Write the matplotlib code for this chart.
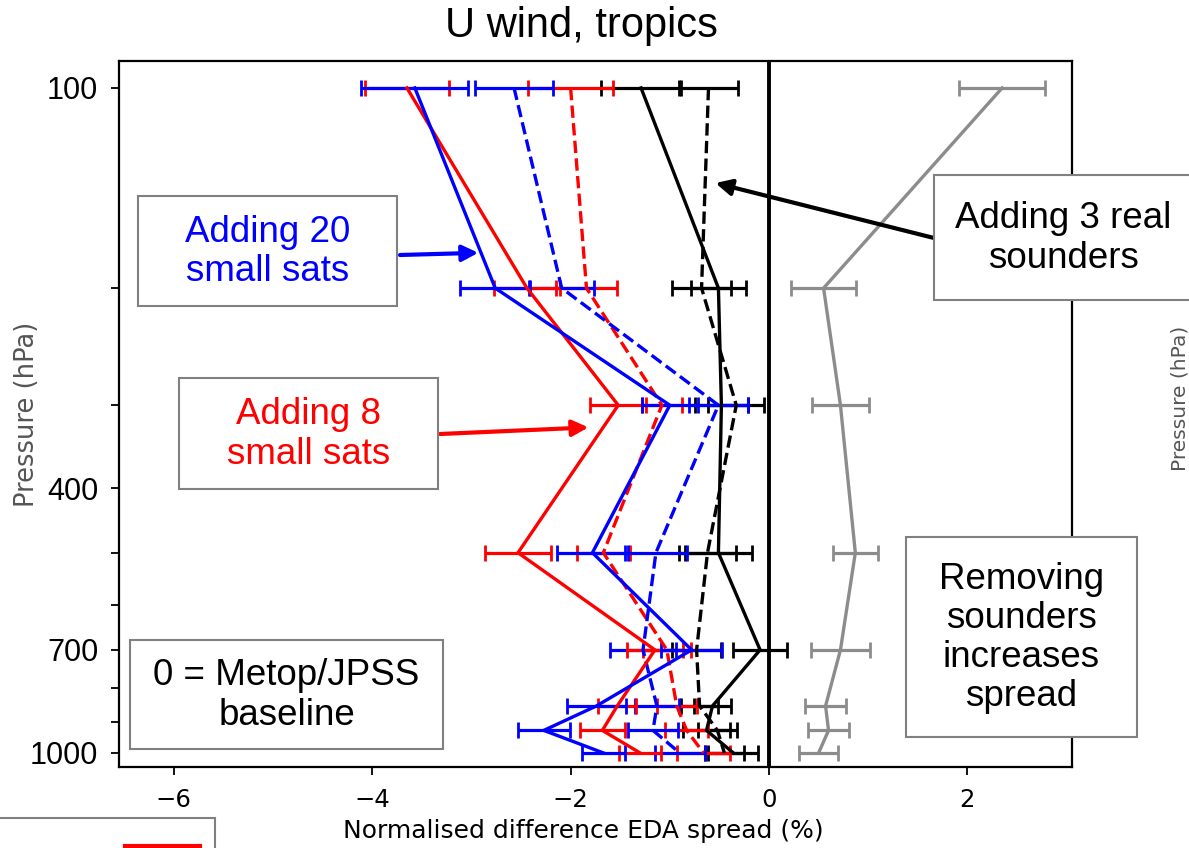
import matplotlib
matplotlib.use("Agg")
import matplotlib.pyplot as plt
from matplotlib.patches import Rectangle
from matplotlib.lines import Line2D
from matplotlib.ticker import NullFormatter

# Pressure levels (hPa)
levels = [100, 200, 300, 500, 700, 850, 925, 1000]

# Normalised difference in EDA spread (%) and error half-widths
red_solid = [-3.65, -2.44, -1.52, -2.53, -1.15, -1.53, -1.68, -1.30]
red_solid_err = [0.42, 0.33, 0.28, 0.33, 0.28, 0.19, 0.23, 0.21]
red_dash = [-2.00, -1.84, -1.08, -1.67, -1.03, -0.93, -0.83, -0.66]
red_dash_err = [0.43, 0.31, 0.20, 0.27, 0.24, 0.20, 0.22, 0.27]

blue_solid = [-3.57, -2.76, -1.00, -1.78, -0.78, -1.74, -2.27, -1.67]
blue_solid_err = [0.54, 0.35, 0.28, 0.36, 0.31, 0.30, 0.26, 0.22]
blue_dash = [-2.57, -2.09, -0.51, -1.14, -1.27, -1.13, -1.17, -0.90]
blue_dash_err = [0.39, 0.33, 0.30, 0.31, 0.33, 0.22, 0.25, 0.25]

black_solid = [-1.29, -0.51, -0.48, -0.51, -0.09, -0.57, -0.63, -0.36]
black_solid_err = [0.40, 0.28, 0.27, 0.34, 0.27, 0.19, 0.24, 0.25]
black_dash = [-0.61, -0.68, -0.33, -0.62, -0.73, -0.70, -0.52, -0.45]
black_dash_err = [0.30, 0.30, 0.28, 0.29, 0.25, 0.19, 0.20, 0.20]

grey_solid = [2.35, 0.55, 0.72, 0.87, 0.72, 0.57, 0.60, 0.50]
grey_solid_err = [0.43, 0.33, 0.29, 0.23, 0.30, 0.21, 0.21, 0.20]

x_ticks = [-6, -4, -2, 0, 2]
x_tick_labels = ["\u22126", "\u22124", "\u22122", "0", "2"]
y_ticks = [100, 400, 700, 1000]
y_tick_labels = ["100", "400", "700", "1000"]
y_minor_ticks = [200, 300, 500, 600, 800, 900]

W, H = 1189, 848
ARIAL = "Liberation Sans"


def fx(x):
    return x / W


def fy(y):
    return 1 - y / H


fig = plt.figure(figsize=(W / 100, H / 100), dpi=100)
ax = fig.add_axes([fx(119), fy(767), (1072 - 119) / W, (767 - 61) / H])

series = [
    (grey_solid, grey_solid_err, "#8c8c8c", "-"),
    (black_dash, black_dash_err, "black", "--"),
    (black_solid, black_solid_err, "black", "-"),
    (red_dash, red_dash_err, "#ff0000", "--"),
    (blue_dash, blue_dash_err, "#0000ff", "--"),
    (red_solid, red_solid_err, "#ff0000", "-"),
    (blue_solid, blue_solid_err, "#0000ff", "-"),
]
for vals, errs, col, ls in series:
    ax.errorbar(vals, levels, xerr=errs, color=col, ls=ls, lw=2.4,
                elinewidth=2.3, capsize=5.5, capthick=2.0)

ax.axvline(0, color="black", lw=2.8, zorder=1)

ax.set_yscale("log")
ax.set_ylim(1050, 91.1)
ax.set_xlim(-6.552, 3.054)
ax.set_yticks(y_ticks)
ax.set_yticklabels(y_tick_labels, fontfamily=ARIAL, fontsize=22)
ax.set_yticks(y_minor_ticks, minor=True)
ax.yaxis.set_minor_formatter(NullFormatter())
ax.set_xticks(x_ticks)
ax.set_xticklabels(x_tick_labels, fontsize=17.5)
ax.tick_params(axis="both", which="both", length=6, width=1.3)
ax.tick_params(axis="y", which="both", pad=9)
ax.tick_params(axis="x", pad=9)
for sp in ax.spines.values():
    sp.set_linewidth(1.6)

ax.set_xlabel("Normalised difference EDA spread (%)", fontsize=18)
ax.xaxis.set_label_coords(0.487, -0.073)
ax.set_ylabel("Pressure (hPa)", fontsize=18.5, color="#555555", va="center")
ax.yaxis.set_label_coords(-0.0966, 0.50)

ax.set_title("U wind, tropics", fontfamily=ARIAL, fontsize=30, x=0.485, pad=17)

# Text boxes
boxes = [
    (138, 196, 397, 306, "Adding 20\nsmall sats", "#0000ff"),
    (179, 378, 438, 489, "Adding 8\nsmall sats", "#ff0000"),
    (934, 175, 1193, 300, "Adding 3 real\nsounders", "black"),
    (906, 537, 1137, 737, "Removing\nsounders\nincreases\nspread", "black"),
    (130, 640, 443, 749, "0 = Metop/JPSS\nbaseline", "black"),
]
for x0, y0, x1, y1, txt, col in boxes:
    fig.add_artist(Rectangle((fx(x0), fy(y1)), (x1 - x0) / W, (y1 - y0) / H,
                             transform=fig.transFigure, facecolor="white",
                             edgecolor="#808080", lw=1.5, zorder=5))
    fig.text(fx((x0 + x1) / 2), fy((y0 + y1) / 2 + 1), txt, ha="center",
             va="center", fontsize=26.5, fontfamily=ARIAL, color=col,
             linespacing=1.15, zorder=6)

# Arrows from the boxes to the profiles
arrows = [
    (400, 255, -2.93, 177, "#0000ff"),
    (440, 434, -1.82, 324, "#ff0000"),
    (934, 238, -0.54, 139, "black"),
]
for px, py, xd, pd, col in arrows:
    ax.annotate("", xy=(xd, pd), xycoords="data",
                xytext=(px, H - py), textcoords="figure pixels",
                arrowprops=dict(arrowstyle="-|>", color=col, lw=3,
                                mutation_scale=24, shrinkA=0, shrinkB=0),
                zorder=7, annotation_clip=False)

# Neighbouring panel label and legend fragment
fig.text(fx(1180), fy(398), "Pressure (hPa)", rotation=90, ha="center",
         va="center", fontsize=14.5, color="#555555")
fig.add_artist(Rectangle((fx(-3), fy(870)), 218 / W, 52 / H,
                         transform=fig.transFigure, facecolor="white",
                         edgecolor="#808080", lw=1.5, zorder=5))
fig.add_artist(Line2D([fx(125), fx(200)], [fy(846), fy(846)],
                      transform=fig.transFigure, color="#ff0000", lw=3,
                      zorder=6))

fig.savefig("out.png", dpi=100)
